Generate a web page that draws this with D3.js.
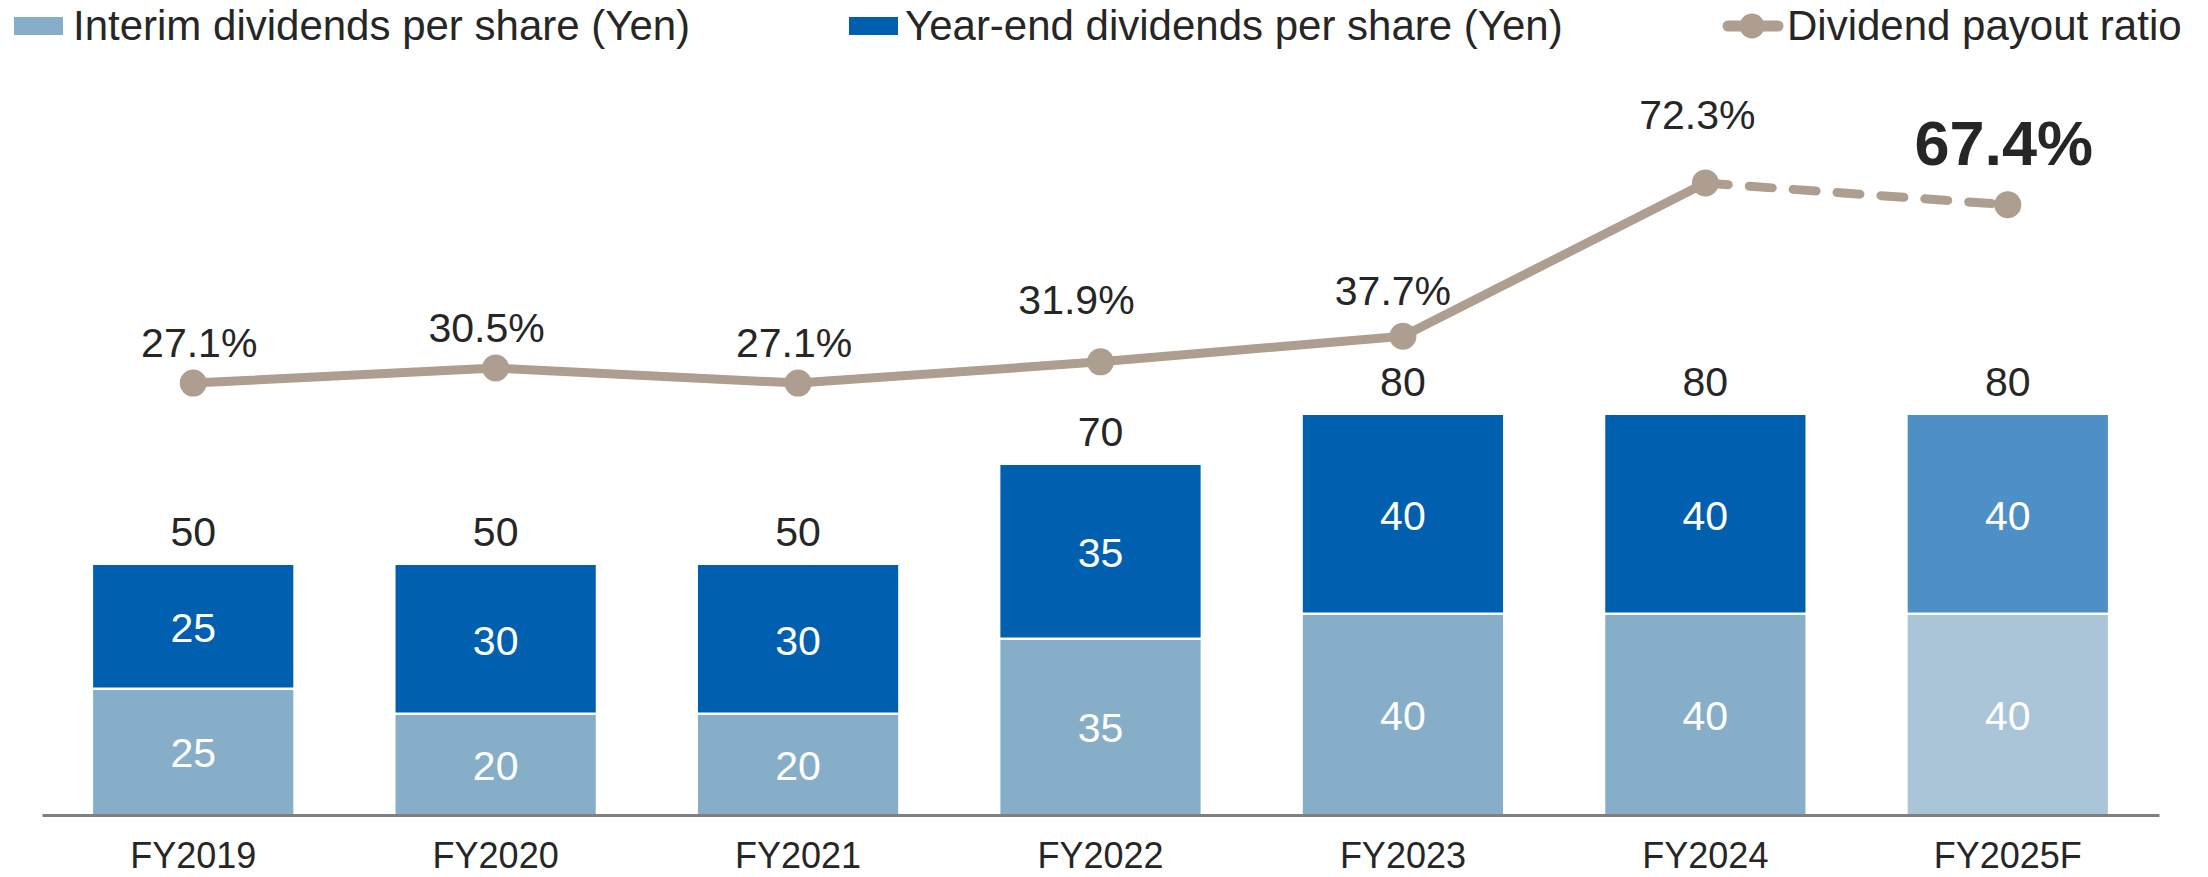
<!DOCTYPE html>
<html>
<head>
<meta charset="utf-8">
<script src="https://cdn.jsdelivr.net/npm/d3@7"></script>
<style>
  body { margin: 0; background: #fff; }
  svg { display: block; font-family: "Liberation Sans", Arial, sans-serif; }
</style>
</head>
<body>
<svg id="chart"></svg>
<script>
const years = ['FY2019', 'FY2020', 'FY2021', 'FY2022', 'FY2023', 'FY2024', 'FY2025F'];
const interim = [25, 20, 20, 35, 40, 40, 40];
const yearEnd = [25, 30, 30, 35, 40, 40, 40];
const payout = [27.1, 30.5, 27.1, 31.9, 37.7, 72.3, 67.4];
const payoutLabels = ['27.1%', '30.5%', '27.1%', '31.9%', '37.7%', '72.3%', '67.4%'];

// label nudges, taken from the original layout
const pctDx = [6, -9, -4, -24, -10, -8, -4];
const pctDy = [-26, -26, -26, -48, -31, -54, -40];

const W = 2208, H = 877;
const textColor = '#262626';
const lineColor = '#ae9e90';
const colInterim = '#87aec8';
const colYearEnd = '#0060af';
const colInterimF = '#aac5d8';
const colYearEndF = '#4e8fc6';

const svg = d3.select('#chart').attr('width', W).attr('height', H);

const x = d3.scaleBand()
  .domain(years)
  .range([42, 2159])
  .paddingInner(0.338)
  .paddingOuter(0.169);

const y = d3.scaleLinear().domain([0, 100]).range([815, 315]);
const y2 = d3.scaleLinear().domain([0, 100]).range([503, 60.5]);

const isForecast = (i) => i === years.length - 1;

// Bars
const data = years.map((yr, i) => ({ yr, i, a: interim[i], b: yearEnd[i] }));

const g = svg.append('g');

g.selectAll('.interim')
  .data(data)
  .enter()
  .append('rect')
  .attr('x', d => x(d.yr))
  .attr('width', x.bandwidth())
  .attr('y', d => y(d.a))
  .attr('height', d => y(0) - y(d.a))
  .attr('fill', d => isForecast(d.i) ? colInterimF : colInterim);

g.selectAll('.yearend')
  .data(data)
  .enter()
  .append('rect')
  .attr('x', d => x(d.yr))
  .attr('width', x.bandwidth())
  .attr('y', d => y(d.a + d.b))
  .attr('height', d => y(d.a) - y(d.a + d.b) - 2.5)
  .attr('fill', d => isForecast(d.i) ? colYearEndF : colYearEnd);

// Axis line
const xAxis = d3.axisBottom(x).tickSize(0).tickPadding(40);
const ax = svg.append('g')
  .attr('transform', `translate(0,${y(0)})`)
  .call(xAxis);
ax.select('.domain').attr('stroke', '#808080').attr('stroke-width', 3);
ax.selectAll('.tick text')
  .attr('font-size', 36)
  .attr('fill', textColor)
  .attr('font-family', '"Liberation Sans", Arial, sans-serif')
  .attr('dy', 0)
  .attr('y', 53);

// Inside labels
g.selectAll('.lblA')
  .data(data)
  .enter()
  .append('text')
  .attr('x', d => x(d.yr) + x.bandwidth() / 2)
  .attr('y', d => (y(0) + y(d.a)) / 2)
  .attr('dy', '0.36em')
  .attr('text-anchor', 'middle')
  .attr('font-size', 41)
  .attr('fill', '#fff')
  .text(d => d.a);

g.selectAll('.lblB')
  .data(data)
  .enter()
  .append('text')
  .attr('x', d => x(d.yr) + x.bandwidth() / 2)
  .attr('y', d => (y(d.a) + y(d.a + d.b)) / 2)
  .attr('dy', '0.36em')
  .attr('text-anchor', 'middle')
  .attr('font-size', 41)
  .attr('fill', '#fff')
  .text(d => d.b);

// Totals above bars
g.selectAll('.lblT')
  .data(data)
  .enter()
  .append('text')
  .attr('x', d => x(d.yr) + x.bandwidth() / 2)
  .attr('y', d => y(d.a + d.b) - 19)
  .attr('text-anchor', 'middle')
  .attr('font-size', 41)
  .attr('fill', textColor)
  .text(d => d.a + d.b);

// Payout ratio line
const cx = (i) => x(years[i]) + x.bandwidth() / 2;
const line = d3.line().x(d => cx(d.i)).y(d => y2(d.v));
const pts = payout.map((v, i) => ({ v, i }));

svg.append('path')
  .datum(pts.slice(0, 6))
  .attr('d', line)
  .attr('fill', 'none')
  .attr('stroke', lineColor)
  .attr('stroke-width', 9)
  .attr('stroke-linejoin', 'round');

svg.append('path')
  .datum(pts.slice(5))
  .attr('d', line)
  .attr('fill', 'none')
  .attr('stroke', lineColor)
  .attr('stroke-width', 9)
  .attr('stroke-linecap', 'round')
  .attr('stroke-dasharray', '23,21');

svg.selectAll('.dot')
  .data(pts)
  .enter()
  .append('circle')
  .attr('cx', d => cx(d.i))
  .attr('cy', d => y2(d.v))
  .attr('r', 13.5)
  .attr('fill', lineColor);

svg.selectAll('.pct')
  .data(pts)
  .enter()
  .append('text')
  .attr('x', d => cx(d.i) + pctDx[d.i])
  .attr('y', d => y2(d.v) + pctDy[d.i])
  .attr('text-anchor', 'middle')
  .attr('font-size', d => isForecast(d.i) ? 63 : 41)
  .attr('font-weight', d => isForecast(d.i) ? 'bold' : 'normal')
  .attr('fill', textColor)
  .text(d => payoutLabels[d.i]);

// Legend
const legend = svg.append('g');
const legendRects = [
  { x: 14, color: colInterim, label: 'Interim dividends per share (Yen)', tx: 73 },
  { x: 849, color: colYearEnd, label: 'Year-end dividends per share (Yen)', tx: 905 }
];
legendRects.forEach(l => {
  legend.append('rect')
    .attr('x', l.x).attr('y', 17)
    .attr('width', 49).attr('height', 18)
    .attr('fill', l.color);
  legend.append('text')
    .attr('x', l.tx).attr('y', 40)
    .attr('font-size', 42)
    .attr('fill', textColor)
    .text(l.label);
});

legend.append('line')
  .attr('x1', 1728).attr('x2', 1778)
  .attr('y1', 26).attr('y2', 26)
  .attr('stroke', lineColor)
  .attr('stroke-width', 11)
  .attr('stroke-linecap', 'round');
legend.append('circle')
  .attr('cx', 1752).attr('cy', 26).attr('r', 12.5)
  .attr('fill', lineColor);
legend.append('text')
  .attr('x', 1787).attr('y', 40)
  .attr('font-size', 42)
  .attr('fill', textColor)
  .text('Dividend payout ratio');
</script>
</body>
</html>
